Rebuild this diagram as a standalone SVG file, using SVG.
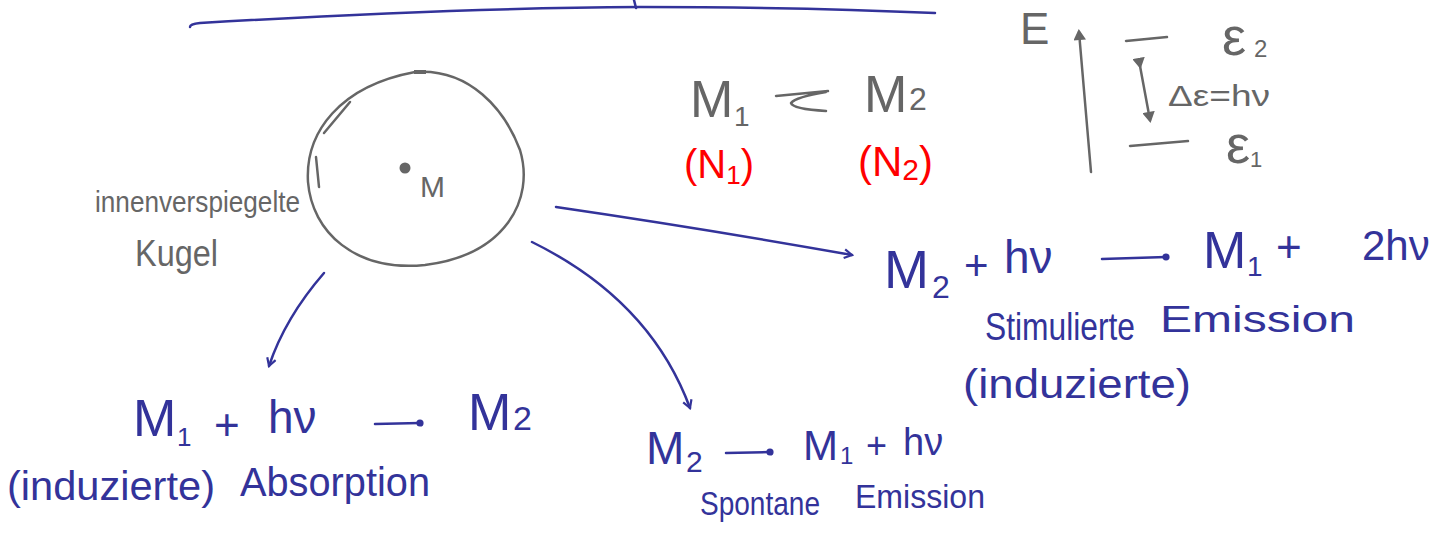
<svg xmlns="http://www.w3.org/2000/svg" width="1446" height="540" viewBox="0 0 1446 540">
<style>
.b{fill:#33339a;font-family:"Liberation Sans",sans-serif}
.g{fill:#666;font-family:"Liberation Sans",sans-serif}
.r{fill:#f00;font-family:"Liberation Sans",sans-serif}
.sb{fill:none;stroke:#33339a;stroke-width:2.5;stroke-linecap:round;stroke-linejoin:round}
.sg{fill:none;stroke:#666;stroke-width:2.5;stroke-linecap:round;stroke-linejoin:round}
</style>
<defs>
<marker id="hbl" viewBox="0 0 10 10" refX="8" refY="5" markerWidth="11" markerHeight="11" orient="auto" markerUnits="userSpaceOnUse">
<path d="M1,1 L8,5 L1,9" fill="none" stroke="#33339a" stroke-width="2"/>
</marker>
<marker id="dot" viewBox="0 0 10 10" refX="5" refY="5" markerWidth="8" markerHeight="8" orient="auto" markerUnits="userSpaceOnUse">
<circle cx="5" cy="5" r="3.5" fill="#33339a" stroke="#33339a" stroke-width="2"/>
</marker>
<marker id="hg" viewBox="0 0 10 10" refX="7" refY="5" markerWidth="12" markerHeight="12" orient="auto" markerUnits="userSpaceOnUse">
<path d="M1,1 L8,5 L1,9 Z" fill="#666" stroke="#666" stroke-width="1.5"/>
</marker>
</defs>

<g id="top-line">
<path class="sb" d="M190,27 Q190,24 200,23 Q450,8 640,7 Q800,7 935,13"/>
<path class="sb" d="M634,0 L636,8"/>
</g>

<g id="sphere">
<path class="sg" d="M415,72 C470,68 505,110 520,150 C535,200 505,255 425,265 C355,272 312,232 308,182 C305,132 340,86 415,72 Z"/>
<path class="sg" d="M324,133 L350,102"/>
<path class="sg" d="M316,157 L319,187"/>
<path d="M414,72 L426,72" stroke="#666" stroke-width="4"/>
<circle cx="405" cy="168" r="5.5" fill="#666"/>
<text class="g" x="420" y="197" font-size="30">M</text>
<text class="g" x="95" y="212" font-size="30" textLength="205" lengthAdjust="spacingAndGlyphs">innenverspiegelte</text>
<text class="g" x="135" y="266" font-size="36" textLength="83" lengthAdjust="spacingAndGlyphs">Kugel</text>
</g>

<g id="equilibrium">
<text class="g" font-size="52"><tspan x="690" y="117">M</tspan><tspan x="734" y="126" font-size="28">1</tspan></text>
<path class="sg" d="M776,96 L828,91 M826,92 Q796,97 791,103 Q793,109 826,111"/>
<text class="g" font-size="52"><tspan x="864" y="112">M</tspan><tspan x="909" y="110" font-size="32">2</tspan></text>
<text class="r" font-size="40"><tspan x="684" y="178">(N</tspan><tspan dy="6" font-size="26">1</tspan><tspan dy="-6">)</tspan></text>
<text class="r" font-size="42"><tspan x="858" y="176">(N</tspan><tspan dy="4" font-size="30">2</tspan><tspan dy="-4">)</tspan></text>
</g>

<g id="energy-levels">
<text class="g" x="1020" y="44" font-size="44">E</text>
<path class="sg" d="M1091,172 L1079,32" marker-end="url(#hg)"/>
<path class="sg" d="M1126,41 L1167,37"/>
<path class="sg" d="M1130,146 L1188,141"/>
<path class="sg" d="M1140,66 L1150,120" marker-start="url(#hg)" marker-end="url(#hg)"/>
<text class="g" font-size="54"><tspan x="1222" y="55">ε</tspan><tspan x="1254" y="57" font-size="24">2</tspan></text>
<text class="g" x="1168" y="106" font-size="30" textLength="102" lengthAdjust="spacingAndGlyphs">Δε=hν</text>
<text class="g" font-size="54"><tspan x="1226" y="163">ε</tspan><tspan x="1250" y="167" font-size="22">1</tspan></text>
</g>

<g id="stimulated-emission">
<text class="b" font-size="54"><tspan x="884" y="288">M</tspan><tspan x="932" y="298" font-size="32">2</tspan><tspan x="964" y="280" font-size="42">+</tspan><tspan x="1004" y="273" font-size="46">hν</tspan></text>
<path class="sb" d="M1102,259 L1166,257" marker-end="url(#dot)"/>
<text class="b" font-size="52"><tspan x="1203" y="268">M</tspan><tspan x="1247" y="276" font-size="28">1</tspan><tspan x="1276" y="262" font-size="44">+</tspan><tspan x="1362" y="260" font-size="42">2hν</tspan></text>
<text class="b" x="985" y="340" font-size="38" textLength="150" lengthAdjust="spacingAndGlyphs">Stimulierte</text>
<text class="b" x="1160" y="332" font-size="36" textLength="195" lengthAdjust="spacingAndGlyphs">Emission</text>
<text class="b" x="963" y="398" font-size="40" textLength="228" lengthAdjust="spacingAndGlyphs">(induzierte)</text>
</g>

<g id="absorption">
<text class="b" font-size="52"><tspan x="133" y="436">M</tspan><tspan x="177" y="446" font-size="26">1</tspan><tspan x="214" y="440" font-size="44">+</tspan><tspan x="268" y="433" font-size="46">hν</tspan></text>
<path class="sb" d="M375,424 L420,423" marker-end="url(#dot)"/>
<text class="b" font-size="52"><tspan x="468" y="430">M</tspan><tspan x="513" y="430" font-size="34">2</tspan></text>
<text class="b" x="7" y="500" font-size="40" textLength="208" lengthAdjust="spacingAndGlyphs">(induzierte)</text>
<text class="b" x="240" y="496" font-size="40" textLength="190" lengthAdjust="spacingAndGlyphs">Absorption</text>
</g>

<g id="spontaneous-emission">
<text class="b" font-size="46"><tspan x="646" y="464">M</tspan><tspan x="686" y="472" font-size="30">2</tspan></text>
<path class="sb" d="M726,453 L770,452" marker-end="url(#dot)"/>
<text class="b" font-size="42"><tspan x="803" y="460">M</tspan><tspan x="840" y="464" font-size="24">1</tspan><tspan x="866" y="458" font-size="36">+</tspan><tspan x="903" y="455" font-size="38">hν</tspan></text>
<text class="b" x="700" y="515" font-size="34" textLength="120" lengthAdjust="spacingAndGlyphs">Spontane</text>
<text class="b" x="855" y="508" font-size="34" textLength="130" lengthAdjust="spacingAndGlyphs">Emission</text>
</g>

<g id="connectors">
<path class="sb" d="M556,207 Q700,228 852,255" marker-end="url(#hbl)"/>
<path class="sb" d="M324,273 Q285,318 269,366" marker-end="url(#hbl)"/>
<path class="sb" d="M532,242 Q650,300 690,408" marker-end="url(#hbl)"/>
</g>
</svg>
